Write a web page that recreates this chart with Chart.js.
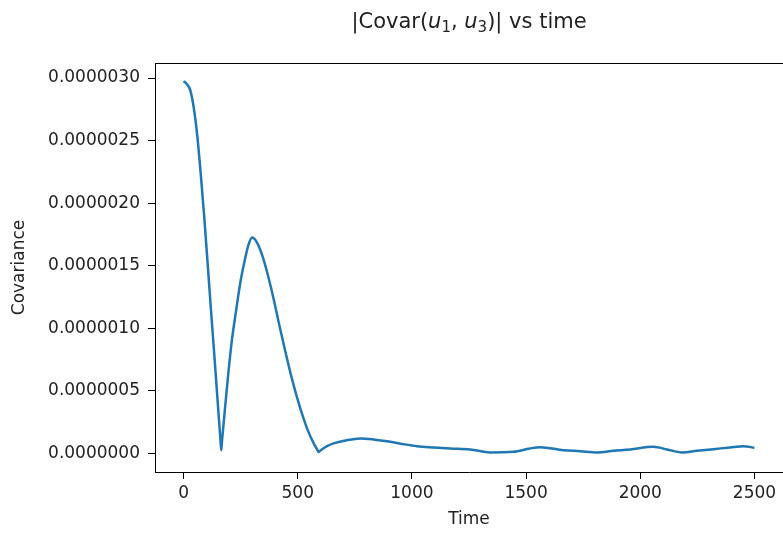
<!DOCTYPE html>
<html>
<head>
<meta charset="utf-8">
<script src="https://cdn.jsdelivr.net/npm/chart.js@4/dist/chart.umd.min.js"></script>
<style>
  html, body { margin: 0; padding: 0; background: #fff; }
  canvas { display: block; }
</style>
</head>
<body>
<canvas id="covarChart" width="783" height="533"></canvas>
<script>
// time samples and |covariance|
const times = [0, 15, 30, 45, 60, 75, 90, 105, 120, 135, 150, 161, 165, 169,
  180, 195, 210, 230, 250, 270, 285, 300, 320, 345, 370, 395, 420, 445, 470, 495, 520, 545, 570, 586, 591, 597,
  628, 657, 715, 774, 832, 905, 963, 1022, 1095, 1168, 1255, 1343, 1445, 1517, 1562,
  1664, 1737, 1810, 1883, 1956, 2058, 2117, 2182, 2248, 2320, 2393, 2452, 2500]
const covar = [2.975e-6, 2.95e-6, 2.90e-6, 2.76e-6, 2.54e-6, 2.24e-6, 1.905e-6, 1.53e-6, 1.15e-6, 0.78e-6, 0.40e-6, 0.125e-6, 0.025e-6, 0.11e-6,
  0.33e-6, 0.62e-6, 0.88e-6, 1.14e-6, 1.38e-6, 1.56e-6, 1.67e-6, 1.725e-6, 1.69e-6, 1.58e-6, 1.42e-6, 1.23e-6, 1.02e-6, 0.82e-6, 0.63e-6, 0.46e-6, 0.31e-6, 0.18e-6, 0.08e-6, 0.028e-6, 0.012e-6, 0.02e-6,
  0.058e-6, 0.08e-6, 0.106e-6, 0.12e-6, 0.112e-6, 0.093e-6, 0.074e-6, 0.058e-6, 0.048e-6, 0.04e-6, 0.032e-6, 0.008e-6, 0.013e-6, 0.04e-6, 0.05e-6,
  0.026e-6, 0.018e-6, 0.008e-6, 0.021e-6, 0.032e-6, 0.053e-6, 0.032e-6, 0.008e-6, 0.021e-6, 0.034e-6, 0.048e-6, 0.058e-6, 0.045e-6]
const xTicks = [0, 500, 1000, 1500, 2000, 2500]
const yTicks = [0, 0.5e-6, 1.0e-6, 1.5e-6, 2.0e-6, 2.5e-6, 3.0e-6]

const FONT = 'DejaVu Sans'
const INK = '#222'

// title with italic u and subscripts, centred over the plot box
const mathTitle = {
  id: 'mathTitle',
  afterDraw(chart) {
    const ctx = chart.ctx, a = chart.chartArea
    const big = 21, small = 15
    const parts = [
      ['|Covar(', '', big, 0],
      ['u', 'italic ', big, 0],
      ['1', '', small, 4],
      [', ', '', big, 0],
      ['u', 'italic ', big, 0],
      ['3', '', small, 4],
      [')| vs time', '', big, 0]
    ]
    ctx.save()
    ctx.fillStyle = INK
    ctx.textBaseline = 'alphabetic'
    let total = 0
    parts.forEach(p => {
      ctx.font = p[1] + p[2] + 'px "' + FONT + '"'
      total += ctx.measureText(p[0]).width
    })
    let x = (a.left + a.right) / 2 - total / 2
    const base = 28
    parts.forEach(p => {
      ctx.font = p[1] + p[2] + 'px "' + FONT + '"'
      ctx.fillText(p[0], x, base + p[3])
      x += ctx.measureText(p[0]).width
    })
    ctx.restore()
  }
}

// top spine (the right one falls just past the canvas edge)
const boxFrame = {
  id: 'boxFrame',
  afterDraw(chart) {
    const ctx = chart.ctx, a = chart.chartArea
    ctx.save()
    ctx.strokeStyle = '#000'
    ctx.lineWidth = 1
    ctx.beginPath()
    ctx.moveTo(a.left, a.top + 0.5)
    ctx.lineTo(a.right, a.top + 0.5)
    ctx.moveTo(a.right + 0.5, a.top)
    ctx.lineTo(a.right + 0.5, a.bottom)
    ctx.stroke()
    ctx.restore()
  }
}

points = []
for(i=0;i<times.length;i++){
  points.push({x: times[i], y: covar[i]})
}

new Chart(document.getElementById('covarChart'), {
  type: 'line',
  data: {
    datasets: [{
      data: points,
      borderColor: '#1f77b4',
      borderWidth: 2.5,
      pointRadius: 0,
      fill: false,
      cubicInterpolationMode: 'monotone'
    }]
  },
  options: {
    responsive: false,
    animation: false,
    devicePixelRatio: 1,
    layout: { padding: { top: 63, right: 0, bottom: 0, left: 0 } },
    plugins: {
      legend: { display: false },
      title: { display: false },
      tooltip: { enabled: false }
    },
    scales: {
      x: {
        type: 'linear',
        min: -125,
        max: 2625,
        afterFit: s => { s.height = 61 },
        afterBuildTicks: s => { s.ticks = xTicks.map(v => ({ value: v })) },
        grid: { drawOnChartArea: false, tickLength: 7, tickColor: '#000' },
        border: { display: true, color: '#000', width: 1 },
        ticks: {
          color: INK,
          font: { family: FONT, size: 17 },
          padding: 4,
          maxRotation: 0,
          callback: v => String(v)
        },
        title: {
          display: true,
          text: 'Time',
          color: INK,
          font: { family: FONT, size: 17 },
          padding: { top: 0, bottom: 3 }
        }
      },
      y: {
        type: 'linear',
        min: -0.1485e-6,
        max: 3.12e-6,
        afterFit: s => { s.width = 155 },
        afterBuildTicks: s => { s.ticks = yTicks.map(v => ({ value: v })) },
        grid: { drawOnChartArea: false, tickLength: 7, tickColor: '#000' },
        border: { display: true, color: '#000', width: 1 },
        ticks: {
          color: INK,
          font: { family: FONT, size: 17 },
          padding: 8,
          callback: v => v.toFixed(7)
        },
        title: {
          display: true,
          text: 'Covariance',
          color: INK,
          font: { family: FONT, size: 17 },
          padding: { top: 9, bottom: 0 }
        }
      }
    }
  },
  plugins: [mathTitle, boxFrame]
})
</script>
</body>
</html>
